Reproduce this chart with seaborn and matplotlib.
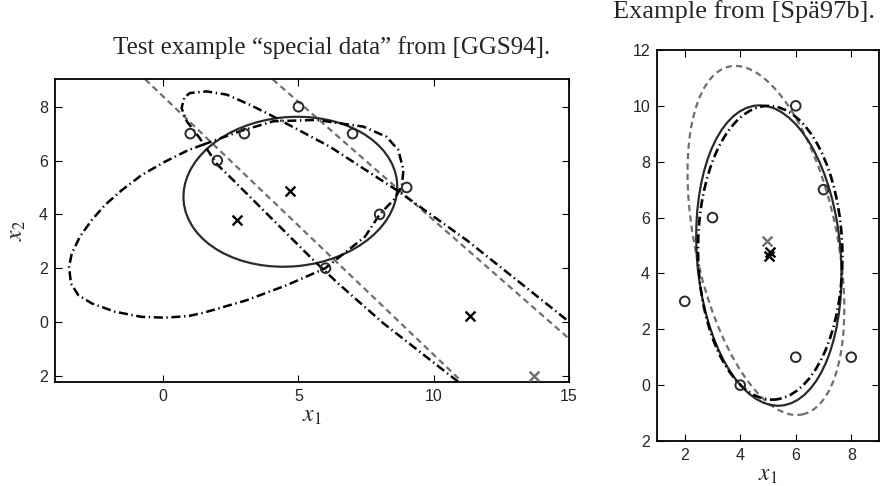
import matplotlib
matplotlib.use("Agg")
import matplotlib.pyplot as plt
from matplotlib.patches import Ellipse
import seaborn as sns

# ---------------- Left panel: "special data" [GGS94] ----------------
left_circ_x = [1, 2, 3, 5, 7, 9, 8, 6]
left_circ_y = [7, 6, 7, 8, 7, 5, 4, 2]
left_crossk_x = [2.72, 4.67, 11.33]
left_crossk_y = [3.80, 4.85, 0.22]
left_crossg_x = [13.72]
left_crossg_y = [-2.0]
# solid ellipse (center, full width, full height, angle in degrees)
left_ell_center = (4.70, 4.84)
left_ell_w, left_ell_h, left_ell_ang = 7.92, 5.55, 5.3
# grey dashed pair of parallel lines (slope, intercept)
left_line_slopes = [-0.96, -0.88]
left_line_inters = [8.38, 12.58]
# black dash-dot closed curve (traced)
egg_x = [1.50, 0.93, 0.07, -0.80, -1.53, -2.15, -2.64, -3.08, -3.38, -3.48,
         -3.41, -3.14, -2.64, -1.78, -0.80, 0.07, 0.93, 1.48, 3.09, 4.57,
         5.98, 7.46, 8.01, 8.51, 8.82, 8.88, 8.69, 8.26, 7.40, 5.67, 4.07,
         2.84, 1.50]
egg_y = [6.60, 6.39, 5.96, 5.46, 4.90, 4.35, 3.79, 3.17, 2.55, 2.05,
         1.43, 1.00, 0.69, 0.38, 0.19, 0.16, 0.22, 0.34, 0.81, 1.37,
         1.99, 3.17, 4.01, 4.53, 5.03, 5.65, 6.39, 6.88, 7.26, 7.51, 7.46,
         7.09, 6.60]
# black dash-dot open curve (traced)
arm_x = [10.90, 8.14, 6.47, 5.55, 2.59, 2.00, 1.33, 0.87, 0.68, 0.78,
         0.99, 1.61, 2.35, 3.21, 3.95, 6.17, 8.63, 11.22, 14.85, 15.30]
arm_y = [-2.22, -0.05, 1.43, 2.30, 5.27, 5.85, 6.86, 7.46, 7.95, 8.35,
         8.51, 8.57, 8.45, 8.07, 7.70, 6.51, 4.90, 3.04, 0.13, -0.25]
left_xticks = [0, 5, 10, 15]
left_xlabels = ["0", "5", "10", "15"]
left_yticks = [-2, 0, 2, 4, 6, 8]
left_ylabels = ["2", "0", "2", "4", "6", "8"]

# ---------------- Right panel: example from [Spa97b] ----------------
right_circ_x = [2, 3, 4, 6, 6, 7, 8]
right_circ_y = [3, 6, 0, 1, 10, 7, 1]
right_crossk_x = [5.07, 5.05]
right_crossk_y = [4.76, 4.61]
right_crossg_x = [4.95]
right_crossg_y = [5.15]
right_solid_center = (5.03, 4.64)
right_solid_w, right_solid_h, right_solid_ang = 5.18, 10.78, 4.6
right_dd_center = (5.08, 4.74)
right_dd_w, right_dd_h, right_dd_ang = 5.20, 10.52, 1.0
right_grey_center = (4.925, 5.18)
right_grey_w, right_grey_h, right_grey_ang = 5.11, 12.73, 11.95
right_xticks = [2, 4, 6, 8]
right_xlabels = ["2", "4", "6", "8"]
right_yticks = [-2, 0, 2, 4, 6, 8, 10, 12]
right_ylabels = ["2", "0", "2", "4", "6", "8", "10", "12"]

sns.set_style("ticks")
plt.rcParams["font.family"] = ["Liberation Sans", "DejaVu Sans"]
plt.rcParams["mathtext.fontset"] = "stix"
plt.rcParams["lines.scale_dashes"] = False

SOLID = "#2a2a2a"
GREY = "#6f6f6f"
DASHDOT = (0, (6.5, 2.6, 1.0, 2.6))
DASHED = (0, (4.5, 3.0))
SERIF = ["Liberation Serif", "DejaVu Serif"]

fig = plt.figure(figsize=(8.82, 4.86), dpi=100)
axL = fig.add_axes([55 / 882, 1 - 381.7 / 486, 514 / 882, 302.4 / 486])
axR = fig.add_axes([657 / 882, 1 - 441 / 486, 222 / 882, 391 / 486])


def style_axes(ax, xt, xl, yt, yl, xlim, ylim):
    ax.set_xlim(*xlim)
    ax.set_ylim(*ylim)
    ax.set_xticks(xt)
    ax.set_xticklabels(xl)
    ax.set_yticks(yt)
    ax.set_yticklabels(yl)
    ax.tick_params(direction="in", top=True, right=True, length=5,
                   width=0.8, labelsize=11.5, pad=5, color="black")
    for s in ax.spines.values():
        s.set_visible(True)
        s.set_linewidth(1.3)
        s.set_color("black")


def markers(ax, cx, cy, kx, ky, gx, gy):
    sns.scatterplot(x=cx, y=cy, ax=ax, marker="o", s=48, facecolors="none",
                    edgecolor=SOLID, linewidth=1.4, zorder=5)
    sns.scatterplot(x=kx, y=ky, ax=ax, marker="x", s=50, color="black",
                    linewidth=1.7, zorder=6)
    sns.scatterplot(x=gx, y=gy, ax=ax, marker="x", s=50, color=GREY,
                    linewidth=1.7, zorder=6)


# ---- left ----
axL.add_patch(Ellipse(left_ell_center, left_ell_w, left_ell_h, angle=left_ell_ang,
                      fill=False, ec=SOLID, lw=1.6, zorder=3))
for m, b in zip(left_line_slopes, left_line_inters):
    axL.axline((0, b), slope=m, color=GREY, lw=1.6, linestyle=DASHED, zorder=2)
sns.lineplot(x=egg_x, y=egg_y, ax=axL, sort=False, estimator=None, color="black",
             lw=1.8, linestyle=DASHDOT, zorder=4)
sns.lineplot(x=arm_x, y=arm_y, ax=axL, sort=False, estimator=None, color="black",
             lw=1.8, linestyle=DASHDOT, zorder=4)
markers(axL, left_circ_x, left_circ_y, left_crossk_x, left_crossk_y,
        left_crossg_x, left_crossg_y)
style_axes(axL, left_xticks, left_xlabels, left_yticks, left_ylabels,
           (-4, 15), (-2.22, 9.02))
axL.set_xlabel("$x_1$", fontsize=17, labelpad=1)
axL.set_ylabel("$x_2$", fontsize=17, labelpad=8)
fig.text(332 / 882, 1 - 48 / 486, "Test example \u201cspecial data\u201d from [GGS94].",
         family=SERIF, fontsize=18, ha="center", va="center")

# ---- right ----
axR.add_patch(Ellipse(right_grey_center, right_grey_w, right_grey_h, angle=right_grey_ang,
                      fill=False, ec=GREY, lw=1.6, linestyle=DASHED, zorder=2))
axR.add_patch(Ellipse(right_solid_center, right_solid_w, right_solid_h, angle=right_solid_ang,
                      fill=False, ec=SOLID, lw=1.6, zorder=3))
axR.add_patch(Ellipse(right_dd_center, right_dd_w, right_dd_h, angle=right_dd_ang,
                      fill=False, ec="black", lw=1.9, linestyle=DASHDOT, zorder=4))
markers(axR, right_circ_x, right_circ_y, right_crossk_x, right_crossk_y,
        right_crossg_x, right_crossg_y)
style_axes(axR, right_xticks, right_xlabels, right_yticks, right_ylabels,
           (1, 9), (-2, 12))
axR.set_xlabel("$x_1$", fontsize=17, labelpad=1)
fig.text(744 / 882, 1 - 12 / 486, "Example from [Sp\u00e497b].",
         family=SERIF, fontsize=19, ha="center", va="center")

for ax in (axL, axR):
    if ax.get_legend() is not None:
        ax.get_legend().remove()

fig.savefig("out.png", dpi=100)
